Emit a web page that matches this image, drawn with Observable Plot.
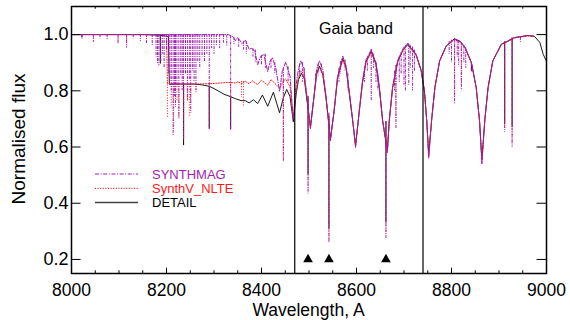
<!DOCTYPE html>
<html><head><meta charset="utf-8">
<script src="https://cdn.jsdelivr.net/npm/d3@7"></script>
<script src="https://cdn.jsdelivr.net/npm/@observablehq/plot@0.6"></script>
<style>
body{margin:0;background:#fff;}
#chart svg{display:block;}
</style>
</head><body><div id="chart"></div>
<script>
// ---------- data ----------
const xTicks = [8000, 8200, 8400, 8600, 8800, 9000];
const xMinorTicks = [8050,8100,8150,8250,8300,8350,8450,8500,8550,8650,8700,8750,8850,8900,8950];
const yTicks = [0.2, 0.4, 0.6, 0.8, 1.0];
const gaiaBand = [8470, 8740];
const gaiaLabel = "Gaia band";
const caTriplet = [8498, 8542, 8662];
const caMarkerFlux = 0.2;
const seriesNames = ["SYNTHMAG", "SynthV_NLTE", "DETAIL"];

// DETAIL: [wavelength, flux]
const detail = [[8000,1.000],[8150,1.000],[8185,0.998],[8197,0.995],[8204,0.993],[8206,0.823],[8230,0.824],[8260,0.824],[8275,0.821],[8290,0.816],[8300,0.808],[8321,0.788],[8335,0.779],[8345,0.772],[8357,0.765],[8366,0.765],[8374,0.757],[8383,0.768],[8392,0.755],[8402,0.785],[8413,0.745],[8425,0.795],[8438,0.722],[8446,0.775],[8453,0.805],[8460,0.780],[8467,0.690],[8473,0.790],[8478,0.840],[8484,0.862],[8490,0.845],[8495,0.775],[8503,0.672],[8511,0.785],[8516,0.860],[8522,0.888],[8529,0.858],[8536,0.772],[8545,0.630],[8553,0.728],[8560,0.845],[8571,0.915],[8578,0.883],[8585,0.788],[8592,0.693],[8598,0.607],[8606,0.729],[8613,0.835],[8620,0.903],[8631,0.940],[8641,0.895],[8648,0.812],[8655,0.693],[8665,0.590],[8669,0.693],[8676,0.812],[8687,0.905],[8698,0.945],[8708,0.965],[8725,0.930],[8736,0.873],[8743,0.800],[8748,0.690],[8752,0.577],[8758,0.693],[8765,0.812],[8775,0.907],[8789,0.960],[8806,0.985],[8818,0.976],[8828,0.956],[8842,0.900],[8852,0.812],[8859,0.693],[8864,0.557],[8870,0.693],[8877,0.812],[8887,0.907],[8905,0.966],[8933,0.989],[8961,0.997],[8975,0.993],[8986,0.972],[8993,0.930],[9000,0.905]];
// DETAIL narrow lines: [wavelength, top, bottom]
const detailLines = [[8022,1.0,0.988],[8187,0.998,0.895],[8236,0.823,0.605],[8290,0.816,0.664],[8335,0.779,0.662],[8498,0.78,0.50],[8542,0.71,0.31],[8662,0.69,0.33],[8842,0.90,0.868],[8912,0.97,0.68],[8927.6,0.985,0.67]];

// SYNTHMAG: [wavelength, flux]
const synthmag = [[8000,1.000],[8330,1.000],[8340,0.993],[8345,0.978],[8350,0.990],[8359,0.968],[8366,0.980],[8374,0.948],[8380,0.952],[8386,0.940],[8392,0.893],[8398,0.922],[8405,0.930],[8413,0.868],[8418,0.905],[8423,0.918],[8430,0.882],[8438,0.798],[8444,0.872],[8451,0.902],[8460,0.852],[8467,0.698],[8473,0.822],[8478,0.880],[8483,0.907],[8489,0.880],[8495,0.790],[8503,0.665],[8511,0.790],[8516,0.875],[8522,0.907],[8529,0.875],[8536,0.780],[8545,0.620],[8553,0.735],[8560,0.850],[8571,0.924],[8578,0.890],[8585,0.795],[8592,0.695],[8598,0.598],[8606,0.735],[8613,0.840],[8620,0.910],[8631,0.947],[8641,0.900],[8648,0.815],[8655,0.695],[8665,0.580],[8669,0.695],[8676,0.815],[8687,0.910],[8698,0.950],[8708,0.970],[8725,0.932],[8736,0.875],[8743,0.800],[8748,0.690],[8752,0.560],[8758,0.693],[8765,0.812],[8775,0.907],[8789,0.960],[8806,0.985],[8818,0.976],[8828,0.956],[8842,0.900],[8852,0.812],[8859,0.693],[8864,0.540],[8870,0.693],[8877,0.812],[8887,0.907],[8905,0.966],[8933,0.990],[8961,0.997],[8972,0.996]];
const synthmagLines = [[8022,1.0,0.984],[8046,1.0,0.972],[8060,1.0,0.985],[8075,1.0,0.980],[8098,1.0,0.966],[8116,1.0,0.952],[8130,1.0,0.985],[8145,1.0,0.975],[8158,1.0,0.966],[8170,1.0,0.960],[8178,1.0,0.920],[8181,1.0,0.895],[8184,1.0,0.889],[8188,1.0,0.900],[8192,1.0,0.930],[8195,1.0,0.880],[8200,1.0,0.942],[8204,1.0,0.860],[8207,1.0,0.830],[8210,1.0,0.800],[8214,1.0,0.640],[8217,1.0,0.780],[8219,1.0,0.741],[8222,1.0,0.820],[8226,1.0,0.705],[8230,1.0,0.850],[8233,1.0,0.800],[8236,1.0,0.630],[8240,1.0,0.860],[8244,1.0,0.764],[8248,1.0,0.840],[8251,1.0,0.720],[8255,1.0,0.870],[8258,1.0,0.830],[8262,1.0,0.800],[8266,1.0,0.900],[8270,1.0,0.880],[8275,1.0,0.920],[8280,1.0,0.900],[8285,1.0,0.930],[8290,1.0,0.658],[8295,1.0,0.950],[8300,1.0,0.930],[8305,1.0,0.960],[8312,1.0,0.950],[8320,1.0,0.970],[8327,0.998,0.955],[8335,0.995,0.658],[8342,0.99,0.965],[8352,0.985,0.955],[8362,0.975,0.945],[8368,0.975,0.930],[8382,0.95,0.920],[8387,0.945,0.900],[8400,0.925,0.890],[8408,0.93,0.880],[8420,0.91,0.880],[8428,0.90,0.860],[8446,0.88,0.545],[8456,0.885,0.830],[8480,0.895,0.850],[8486,0.90,0.830],[8490,0.88,0.840],[8498,0.77,0.433],[8514,0.86,0.820],[8519,0.895,0.850],[8526,0.895,0.860],[8542,0.72,0.257],[8563,0.88,0.830],[8566,0.905,0.860],[8576,0.91,0.870],[8582,0.86,0.800],[8617,0.88,0.830],[8623,0.92,0.870],[8631,0.947,0.764],[8636,0.93,0.880],[8641,0.90,0.830],[8645,0.86,0.800],[8662,0.69,0.274],[8680,0.87,0.800],[8683,0.89,0.665],[8690,0.92,0.830],[8694,0.935,0.860],[8700,0.955,0.820],[8703,0.96,0.800],[8710,0.965,0.820],[8713,0.962,0.880],[8718,0.955,0.800],[8722,0.945,0.870],[8795,0.975,0.930],[8800,0.98,0.900],[8806.5,0.985,0.753],[8812,0.98,0.920],[8815,0.978,0.890],[8820.7,0.972,0.800],[8826,0.96,0.900],[8830,0.95,0.880],[8841.8,0.90,0.865],[8912,0.975,0.652],[8927.6,0.988,0.599],[8945,0.99,0.970]];

// SynthV_NLTE: [wavelength, flux]
const synthv = [[8000,1.000],[8200,1.000],[8202,0.826],[8230,0.824],[8260,0.824],[8300,0.826],[8330,0.830],[8345,0.828],[8350,0.832],[8359,0.826],[8366,0.834],[8374,0.825],[8380,0.836],[8392,0.822],[8400,0.838],[8413,0.820],[8420,0.840],[8438,0.810],[8446,0.835],[8451,0.842],[8460,0.815],[8467,0.700],[8473,0.800],[8478,0.850],[8483,0.871],[8489,0.858],[8495,0.785],[8503,0.668],[8511,0.785],[8516,0.860],[8522,0.883],[8529,0.860],[8536,0.775],[8545,0.625],[8553,0.730],[8560,0.842],[8571,0.909],[8578,0.880],[8585,0.790],[8592,0.693],[8598,0.602],[8606,0.730],[8613,0.832],[8620,0.900],[8631,0.937],[8641,0.895],[8648,0.812],[8655,0.693],[8665,0.585],[8669,0.693],[8676,0.810],[8687,0.905],[8698,0.945],[8708,0.962],[8725,0.928],[8736,0.872],[8743,0.798],[8748,0.690],[8752,0.565],[8758,0.693],[8765,0.810],[8775,0.905],[8789,0.958],[8806,0.982],[8818,0.974],[8828,0.954],[8842,0.898],[8852,0.810],[8859,0.693],[8864,0.548],[8870,0.693],[8877,0.810],[8887,0.905],[8905,0.964],[8933,0.988],[8961,0.995],[8972,0.994]];
const synthvLines = [[8046,1.0,0.985],[8098,1.0,0.975],[8116,1.0,0.960],[8202,0.83,0.705],[8210,0.824,0.740],[8215,0.824,0.658],[8222,0.824,0.760],[8226,0.824,0.700],[8236,0.824,0.620],[8244,0.824,0.760],[8248,0.824,0.705],[8251,0.824,0.750],[8262,0.824,0.790],[8290,0.826,0.670],[8335,0.83,0.720],[8358,0.833,0.776],[8362,0.833,0.740],[8446,0.84,0.560],[8498,0.77,0.450],[8542,0.70,0.270],[8662,0.69,0.290],[8683,0.89,0.700],[8806.5,0.985,0.770],[8820.7,0.972,0.820],[8912,0.975,0.660],[8927.6,0.988,0.610]];

// ---------- styles ----------
const FONT = "'Liberation Sans', Arial, Helvetica, sans-serif";
const PURPLE = "#a01fb0";
const RED = "#ff1a1a";
const MAG_DASH = "4,1.6,1,1.6";
const RED_DASH = "1,1.6";
const W = 570, H = 320, ML = 71, MR = 24, MT = 6, MB = 47;
const plotW = W - ML - MR, plotH = H - MT - MB;
const xMajorLen = 5.3, xMinorLen = 2.7, yMajorLen = 9.5;

const chart = Plot.plot({
  width: W, height: H,
  marginLeft: ML, marginRight: MR, marginTop: MT, marginBottom: MB,
  style: {fontFamily: FONT, background: "white", color: "black", overflow: "visible"},
  x: {domain: [8000, 9000]},
  y: {domain: [0.15, 1.10]},
  marks: [
    Plot.line(detail, {x: d => d[0], y: d => d[1], stroke: "black", strokeWidth: 0.9}),
    Plot.ruleX(detailLines, {x: d => d[0], y1: d => d[1], y2: d => d[2], stroke: "black", strokeWidth: 1}),
    Plot.line(synthv, {x: d => d[0], y: d => d[1], stroke: RED, strokeWidth: 1, strokeDasharray: RED_DASH}),
    Plot.ruleX(synthvLines, {x: d => d[0], y1: d => d[1], y2: d => d[2], stroke: RED, strokeWidth: 1, strokeDasharray: RED_DASH}),
    Plot.line(synthmag, {x: d => d[0], y: d => d[1], stroke: PURPLE, strokeWidth: 1, strokeDasharray: MAG_DASH}),
    Plot.ruleX(synthmagLines, {x: d => d[0], y1: d => d[1], y2: d => d[2], stroke: PURPLE, strokeWidth: 1, strokeDasharray: "3,1,1,1"}),
    Plot.ruleX(gaiaBand, {x: d => d, stroke: "black", strokeWidth: 1.2}),
    Plot.dot(caTriplet, {x: d => d, y: () => caMarkerFlux, symbol: "triangle", fill: "black", stroke: "none", r: 3.6}),
    Plot.text([gaiaLabel], {x: () => (gaiaBand[0] + gaiaBand[1]) / 2, text: d => d, frameAnchor: "top", dy: 16, dx: -3, fontSize: 16, fill: "black"}),
    // inward ticks (IDL-style box)
    Plot.tickX(xTicks, {x: d => d, insetTop: plotH - xMajorLen, stroke: "black"}),
    Plot.tickX(xTicks, {x: d => d, insetBottom: plotH - xMajorLen, stroke: "black"}),
    Plot.tickX(xMinorTicks, {x: d => d, insetTop: plotH - xMinorLen, stroke: "black"}),
    Plot.tickX(xMinorTicks, {x: d => d, insetBottom: plotH - xMinorLen, stroke: "black"}),
    Plot.tickY(yTicks, {y: d => d, insetRight: plotW - yMajorLen, stroke: "black"}),
    Plot.tickY(yTicks, {y: d => d, insetLeft: plotW - yMajorLen, stroke: "black"}),
    Plot.frame({stroke: "black", strokeWidth: 1.5}),
    Plot.axisX({anchor: "bottom", ticks: xTicks, tickSize: 0, tickPadding: 10, tickFormat: d => String(d), fontSize: 17.5, label: null}),
    Plot.axisY({anchor: "left", ticks: yTicks, tickSize: 0, tickPadding: 3, tickFormat: d => d.toFixed(1), fontSize: 18, label: null})
  ]
});

document.getElementById("chart").appendChild(chart);

// ---------- axis titles and legend ----------
const svg = d3.select(chart);
svg.append("text").attr("x", 308.5).attr("y", 316).attr("text-anchor", "middle")
  .attr("font-family", FONT).attr("font-size", 17.5).attr("fill", "black").text("Wavelength, A");
svg.append("text").attr("transform", "translate(25,139) rotate(-90)").attr("text-anchor", "middle")
  .attr("font-family", FONT).attr("font-size", 19).attr("fill", "black").text("Normalised flux");

const legendStyles = [
  {stroke: PURPLE, dash: MAG_DASH, width: 1.2, text: PURPLE},
  {stroke: RED, dash: RED_DASH, width: 1.2, text: RED},
  {stroke: "#444", dash: null, width: 1.5, text: "black"}
];
const lg = svg.append("g").attr("text-anchor", "start");
seriesNames.forEach((name, i) => {
  const y = 174 + i * 14.3;
  const s = legendStyles[i];
  lg.append("line").attr("x1", 95).attr("x2", 138).attr("y1", y).attr("y2", y)
    .attr("stroke", s.stroke).attr("stroke-width", s.width).attr("stroke-dasharray", s.dash);
  lg.append("text").attr("x", 152).attr("y", y).attr("dy", "0.36em").attr("text-anchor", "start")
    .attr("font-family", FONT).attr("font-size", 13).attr("fill", s.text).text(name);
});
</script>
</body></html>
